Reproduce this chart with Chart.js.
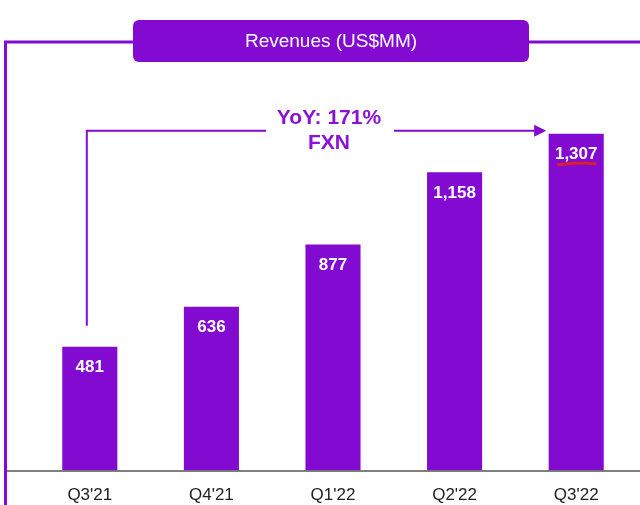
<!DOCTYPE html>
<html>
<head>
<meta charset="utf-8">
<script src="https://cdn.jsdelivr.net/npm/chart.js@4"></script>
<style>
  html, body { margin: 0; padding: 0; background: #fff; }
  #wrap { width: 640px; height: 505px; position: relative; }
</style>
</head>
<body>
<div id="wrap"><canvas id="myChart"></canvas></div>
<script>
// datos del grafico
const trimestres = ["Q3'21", "Q4'21", "Q1'22", "Q2'22", "Q3'22"];
const ingresos = [481, 636, 877, 1158, 1307];
const titulo = "Revenues (US$MM)";
const textoYoY = ["YoY: 171%", "FXN"];

const morado = "#820AD1";

// plugin para dibujar marco, titulo, etiquetas y flecha
const decoracion = {
  id: "decoracion",
  afterDatasetsDraw(chart) {
    const ctx = chart.ctx;
    const area = chart.chartArea;
    const barras = chart.getDatasetMeta(0).data;
    ctx.save();

    // marco morado
    ctx.strokeStyle = morado;
    ctx.lineWidth = 3;
    ctx.beginPath();
    ctx.moveTo(5.5, 505);
    ctx.lineTo(5.5, 42);
    ctx.lineTo(140, 42);
    ctx.moveTo(520, 42);
    ctx.lineTo(640, 42);
    ctx.stroke();

    // caja del titulo
    ctx.fillStyle = morado;
    ctx.beginPath();
    ctx.roundRect(133, 20, 396, 42, 6);
    ctx.fill();
    ctx.fillStyle = "#fff";
    ctx.font = "19px 'Liberation Sans', Arial, sans-serif";
    ctx.textAlign = "center";
    ctx.textBaseline = "middle";
    ctx.fillText(titulo, 331, 42);

    // linea base
    ctx.strokeStyle = "#555";
    ctx.lineWidth = 1.5;
    ctx.beginPath();
    ctx.moveTo(7, area.bottom + 0.5);
    ctx.lineTo(640, area.bottom + 0.5);
    ctx.stroke();

    // valores dentro de las barras
    ctx.fillStyle = "#fff";
    ctx.font = "bold 17px 'Liberation Sans', Arial, sans-serif";
    barras.forEach((b, i) => {
      ctx.fillText(ingresos[i].toLocaleString("en-US"), b.x, b.y + 21);
    });

    // subrayado rojo del ultimo valor
    const ult = barras[barras.length - 1];
    ctx.strokeStyle = "#d8202a";
    ctx.lineWidth = 3;
    ctx.lineCap = "round";
    ctx.beginPath();
    ctx.moveTo(ult.x - 18, ult.y + 31);
    ctx.quadraticCurveTo(ult.x + 1, ult.y + 28, ult.x + 19, ult.y + 30);
    ctx.stroke();

    // flecha YoY
    const ini = barras[0];
    const yFlecha = ult.y - 3;
    const xIni = ini.x - 3;
    const xFin = ult.x - 30;
    ctx.strokeStyle = morado;
    ctx.lineWidth = 2;
    ctx.lineCap = "butt";
    ctx.beginPath();
    ctx.moveTo(xIni, ini.y - 21);
    ctx.lineTo(xIni, yFlecha);
    ctx.lineTo(266, yFlecha);
    ctx.moveTo(394, yFlecha);
    ctx.lineTo(xFin - 10, yFlecha);
    ctx.stroke();
    ctx.fillStyle = morado;
    ctx.beginPath();
    ctx.moveTo(xFin, yFlecha);
    ctx.lineTo(xFin - 12, yFlecha - 6);
    ctx.lineTo(xFin - 12, yFlecha + 6);
    ctx.closePath();
    ctx.fill();

    ctx.fillStyle = "#8a12d6";
    ctx.font = "bold 21px 'Liberation Sans', Arial, sans-serif";
    ctx.fillText(textoYoY[0], 329, 118);
    ctx.fillText(textoYoY[1], 329, 143);

    ctx.restore();
  }
};

const config = {
  type: "bar",
  data: {
    labels: trimestres,
    datasets: [{
      data: ingresos,
      backgroundColor: morado,
      borderWidth: 0,
      categoryPercentage: 1,
      barPercentage: 0.453
    }]
  },
  options: {
    responsive: false,
    animation: false,
    layout: { padding: { top: 84, left: 29, right: 3, bottom: -8 } },
    plugins: { legend: { display: false }, tooltip: { enabled: false } },
    scales: {
      x: {
        grid: { display: false },
        border: { display: false },
        ticks: {
          color: "#222",
          padding: 7,
          font: { family: "'Liberation Sans', Arial, sans-serif", size: 17 }
        }
      },
      y: { display: false, min: 0, max: 1500 }
    }
  },
  plugins: [decoracion]
};

const chartDOM = document.getElementById("myChart");
chartDOM.width = 640;
chartDOM.height = 505;
new Chart(chartDOM, config);
</script>
</body>
</html>
